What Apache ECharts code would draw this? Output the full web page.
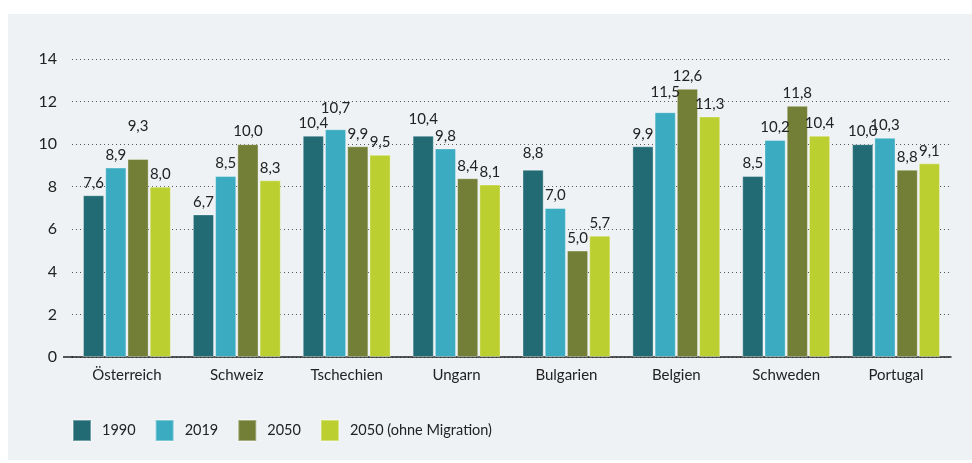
<!DOCTYPE html>
<html>
<head>
<meta charset="utf-8">
<script src="https://cdn.jsdelivr.net/npm/echarts@6/dist/echarts.min.js"></script>
<style>
  html, body { margin: 0; padding: 0; background: #ffffff; }
  #panel { position: absolute; left: 8px; top: 14px; width: 964px; height: 446px; background: #eef2f5; }
  #chart { position: absolute; left: 0; top: 0; width: 972px; height: 463px; }
</style>
</head>
<body>
<div id="panel"></div>
<div id="chart"></div>
<script>
const categories = ['Österreich', 'Schweiz', 'Tschechien', 'Ungarn', 'Bulgarien', 'Belgien', 'Schweden', 'Portugal']
const seriesNames = ['1990', '2019', '2050', '2050 (ohne Migration)']
const values1990 = [7.6, 6.7, 10.4, 10.4, 8.8, 9.9, 8.5, 10.0]
const values2019 = [8.9, 8.5, 10.7, 9.8, 7.0, 11.5, 10.2, 10.3]
const values2050 = [9.3, 10.0, 9.9, 8.4, 5.0, 12.6, 11.8, 8.8]
const values2050ohne = [8.0, 8.3, 9.5, 8.1, 5.7, 11.3, 10.4, 9.1]
const yTicks = [0, 2, 4, 6, 8, 10, 12, 14]

const colors = ['#226b75', '#3aabc0', '#737f36', '#bccf31']
const font = 'Lato, "Noto Sans", sans-serif'

// labels that sit a bit higher in the original to keep clear of neighbours
const labelRaise = {
  '2050|Österreich': 20,
  '2019|Belgien': 8,
  '2019|Tschechien': 9,
  '1990|Ungarn': 4,
  '1990|Bulgarien': 4
}

const chart = echarts.init(document.getElementById('chart'))

const makeSeries = (name, data, color) => ({
  name,
  type: 'bar',
  data: data.map((v, i) => {
    const raise = labelRaise[name + '|' + categories[i]]
    return raise ? { value: v, label: { distance: 5 + raise } } : v
  }),
  barGap: '5%',
  barCategoryGap: '20%',
  itemStyle: {
    color,
    borderColor: 'rgba(255,255,255,0.35)',
    borderWidth: 1
  },
  label: {
    show: true,
    position: 'top',
    distance: 5,
    color: '#222',
    fontFamily: font,
    fontSize: 15,
    formatter: p => p.value.toFixed(1).replace('.', ',')
  }
})

chart.setOption({
  animation: false,
  color: colors,
  grid: { left: 72, right: 21, top: 59, bottom: 106 },
  legend: {
    left: 72,
    top: 419,
    padding: 0,
    itemWidth: 18,
    itemHeight: 21,
    itemGap: 19,
    icon: 'rect',
    textStyle: { fontFamily: font, fontSize: 14.5, color: '#222', padding: [0, 0, 0, 6] },
    data: seriesNames
  },
  xAxis: {
    type: 'category',
    data: categories,
    axisLine: { lineStyle: { color: '#222', width: 1.5 } },
    axisTick: { show: false },
    axisLabel: { fontFamily: font, fontSize: 15, color: '#222', margin: 11 }
  },
  yAxis: {
    type: 'value',
    min: yTicks[0],
    max: yTicks[yTicks.length - 1],
    interval: 2,
    axisLine: { show: false },
    axisTick: { show: false },
    axisLabel: { fontFamily: font, fontSize: 16, color: '#222', margin: 15 },
    splitLine: { lineStyle: { color: '#555', type: [1, 3], width: 1 } }
  },
  series: [
    makeSeries(seriesNames[0], values1990, colors[0]),
    makeSeries(seriesNames[1], values2019, colors[1]),
    makeSeries(seriesNames[2], values2050, colors[2]),
    makeSeries(seriesNames[3], values2050ohne, colors[3])
  ]
})

// the baseline runs a little further left than the plot area
const baseY = chart.convertToPixel({ yAxisIndex: 0 }, 0)
chart.setOption({
  graphic: [{
    type: 'line',
    shape: { x1: 63, y1: baseY, x2: 73, y2: baseY },
    style: { stroke: '#222', lineWidth: 1.5 }
  }]
})
</script>
</body>
</html>
